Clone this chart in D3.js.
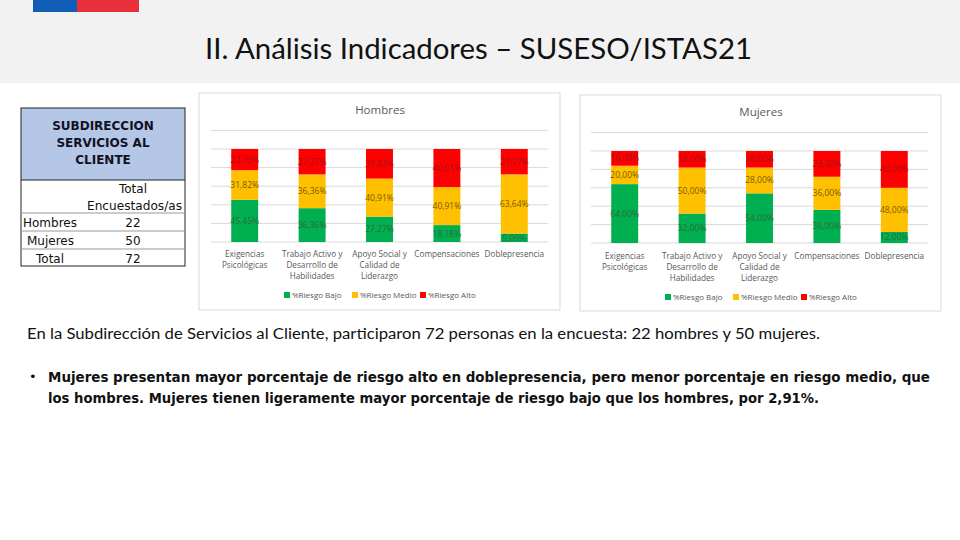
<!DOCTYPE html>
<html><head><meta charset="utf-8">
<script src="https://cdn.jsdelivr.net/npm/d3@7"></script>
<style>html,body{margin:0;padding:0;background:#fff;}svg{display:block;}</style>
</head><body>
<svg id="c" width="960" height="540"></svg>
<script>
// ---- data ----
const categories = ["Exigencias Psicológicas","Trabajo Activo y Desarrollo de Habilidades","Apoyo Social y Calidad de Liderazgo","Compensaciones","Doblepresencia"];
const categoryLines = [["Exigencias","Psicológicas"],["Trabajo Activo y","Desarrollo de","Habilidades"],["Apoyo Social y","Calidad de","Liderazgo"],["Compensaciones"],["Doblepresencia"]];
const seriesNames = ["%Riesgo Bajo","%Riesgo Medio","%Riesgo Alto"];
const hombresBajo  = [45.45, 36.36, 27.27, 18.18, 9.09];
const hombresMedio = [31.82, 36.36, 40.91, 40.91, 63.64];
const hombresAlto  = [22.73, 27.27, 31.82, 40.91, 27.27];
const mujeresBajo  = [64.00, 32.00, 54.00, 36.00, 12.00];
const mujeresMedio = [20.00, 50.00, 28.00, 36.00, 48.00];
const mujeresAlto  = [16.00, 18.00, 18.00, 28.00, 40.00];
const yTicks = [0,20,40,60,80,100,120];
const tableRows = [["Hombres","22"],["Mujeres","50"],["Total","72"]];

const colors = ["#00b050","#ffc000","#ff0000"];
const labelColors = ["#2f6b3f","#7a5c00","#a31515"];

const svg = d3.select("#c");

// ---- header ----
svg.append("rect").attr("x",0).attr("y",0).attr("width",960).attr("height",83).attr("fill","#f2f2f2");
svg.append("rect").attr("x",33).attr("y",0).attr("width",44).attr("height",12).attr("fill","#0f5db5");
svg.append("rect").attr("x",77).attr("y",0).attr("width",62).attr("height",12).attr("fill","#e8303a");
svg.append("text").attr("x",205).attr("y",59).attr("font-family","Lato, 'Open Sans', sans-serif")
  .attr("font-size",28.5).attr("fill","#111").attr("textLength",547).attr("lengthAdjust","spacingAndGlyphs")
  .text("II. Análisis Indicadores – SUSESO/ISTAS21");

// ---- table ----
const tb = svg.append("g");
tb.append("rect").attr("x",21).attr("y",108).attr("width",164).attr("height",72).attr("fill","#b4c7e7");
tb.append("rect").attr("x",21).attr("y",108).attr("width",164).attr("height",158).attr("fill","none").attr("stroke","#222").attr("stroke-width",1);
[180].forEach(y=>tb.append("line").attr("x1",21).attr("x2",185).attr("y1",y).attr("y2",y).attr("stroke","#222"));
[213,231,249].forEach(y=>tb.append("line").attr("x1",21).attr("x2",185).attr("y1",y).attr("y2",y).attr("stroke","#999"));
["SUBDIRECCION","SERVICIOS AL","CLIENTE"].forEach((t,i)=>{
  tb.append("text").attr("x",103).attr("y",130+i*17).attr("text-anchor","middle")
    .attr("font-family","'DejaVu Sans', Verdana, sans-serif").attr("font-weight","bold").attr("font-size",12).attr("fill","#111122").text(t);
});
const tf = "'DejaVu Sans', Tahoma, sans-serif";
tb.append("text").attr("x",133).attr("y",193).attr("text-anchor","middle").attr("font-family",tf).attr("font-size",12).attr("fill","#111").text("Total");
tb.append("text").attr("x",87).attr("y",210).attr("font-family",tf).attr("font-size",12).attr("fill","#111").attr("textLength",95).attr("lengthAdjust","spacingAndGlyphs").text("Encuestados/as");
const rowX = [23,27,36];
tableRows.forEach((r,i)=>{
  const y = 227 + i*18;
  tb.append("text").attr("x",rowX[i]).attr("y",y).attr("font-family",tf).attr("font-size",12).attr("fill","#111").text(r[0]);
  tb.append("text").attr("x",133).attr("y",y).attr("text-anchor","middle").attr("font-family",tf).attr("font-size",12).attr("fill","#111").text(r[1]);
});

// ---- charts ----
const fmt = v => d3.format(".2f")(v).replace(".",",") + "%";

function drawChart(cfg){
  const g = svg.append("g");
  g.append("rect").attr("x",cfg.px).attr("y",cfg.py).attr("width",cfg.pw).attr("height",cfg.ph)
    .attr("fill","#fff").attr("stroke","#d9d9d9");
  const x = d3.scaleBand().domain(categories).range([cfg.x0,cfg.x1]).paddingInner(0.6).paddingOuter(0.3);
  const y = d3.scaleLinear().domain([0,120]).range([cfg.y0, cfg.y0 - cfg.h100*1.2]);
  g.append("g").selectAll("line").data(yTicks).join("line")
    .attr("x1",cfg.x0).attr("x2",cfg.x1).attr("y1",d=>y(d)).attr("y2",d=>y(d))
    .attr("stroke","#d9d9d9").attr("stroke-width",1);
  const table = categories.map((c,i)=>({cat:c, b:cfg.data[0][i], m:cfg.data[1][i], a:cfg.data[2][i]}));
  const stack = d3.stack().keys(["b","m","a"])(table);
  stack.forEach((layer,li)=>{
    g.append("g").selectAll("rect").data(layer).join("rect")
      .attr("x",d=>x(d.data.cat)).attr("width",x.bandwidth())
      .attr("y",d=>y(d[1])).attr("height",d=>y(d[0])-y(d[1]))
      .attr("fill",colors[li]);
    g.append("g").selectAll("text").data(layer).join("text")
      .attr("x",d=>x(d.data.cat)+x.bandwidth()/2).attr("y",d=>(y(d[0])+y(d[1]))/2+3)
      .attr("text-anchor","middle").attr("font-family","'Open Sans', sans-serif").attr("font-size",8.5)
      .attr("fill",labelColors[li]).text(d=>fmt(d[1]-d[0]));
  });
  categoryLines.forEach((lines,i)=>{
    const t = g.append("text").attr("text-anchor","middle").attr("font-family","'Open Sans', sans-serif")
      .attr("font-size",8.2).attr("fill","#595959");
    lines.forEach((ln,j)=>t.append("tspan").attr("x",x(categories[i])+x.bandwidth()/2).attr("y",cfg.labY+j*11).text(ln));
  });
  g.append("text").attr("x",cfg.cx).attr("y",cfg.titleY).attr("text-anchor","middle")
    .attr("font-family","'Open Sans', sans-serif").attr("font-size",11.5).attr("fill","#595959").text(cfg.title);
  const offs = [-96,-28,40];
  seriesNames.forEach((s,i)=>{
    g.append("rect").attr("x",cfg.cx+offs[i]).attr("y",cfg.legY-6).attr("width",6).attr("height",6).attr("fill",colors[i]);
    g.append("text").attr("x",cfg.cx+offs[i]+8).attr("y",cfg.legY).attr("font-family","'Open Sans', sans-serif")
      .attr("font-size",8).attr("fill","#595959").text(s);
  });
}

drawChart({title:"Hombres", data:[hombresBajo,hombresMedio,hombresAlto],
  px:199, py:93, pw:361, ph:217, x0:211, x1:548, y0:242, h100:93, cx:380, titleY:114, labY:257, legY:298});
drawChart({title:"Mujeres", data:[mujeresBajo,mujeresMedio,mujeresAlto],
  px:580, py:95, pw:361, ph:216, x0:591, x1:928, y0:243, h100:92, cx:761, titleY:116, labY:259, legY:300});

// ---- body text ----
svg.append("text").attr("x",27).attr("y",339).attr("font-family","Lato, 'Open Sans', sans-serif").attr("font-size",15.5)
  .attr("fill","#111").attr("textLength",793).attr("lengthAdjust","spacingAndGlyphs")
  .text("En la Subdirección de Servicios al Cliente, participaron 72 personas en la encuesta: 22 hombres y 50 mujeres.");
svg.append("text").attr("x",29).attr("y",381).attr("font-family","'DejaVu Sans', sans-serif").attr("font-size",13).attr("fill","#111").text("•");
svg.append("text").attr("x",48).attr("y",382).attr("font-family","'DejaVu Sans', Verdana, sans-serif").attr("font-weight","bold").attr("font-size",13.5)
  .attr("fill","#111").attr("textLength",882).attr("lengthAdjust","spacingAndGlyphs")
  .text("Mujeres presentan mayor porcentaje de riesgo alto en doblepresencia, pero menor porcentaje en riesgo medio, que");
svg.append("text").attr("x",48).attr("y",403).attr("font-family","'DejaVu Sans', Verdana, sans-serif").attr("font-weight","bold").attr("font-size",13.5)
  .attr("fill","#111").attr("textLength",771).attr("lengthAdjust","spacingAndGlyphs")
  .text("los hombres. Mujeres tienen ligeramente mayor porcentaje de riesgo bajo que los hombres, por 2,91%.");
</script>
</body></html>
